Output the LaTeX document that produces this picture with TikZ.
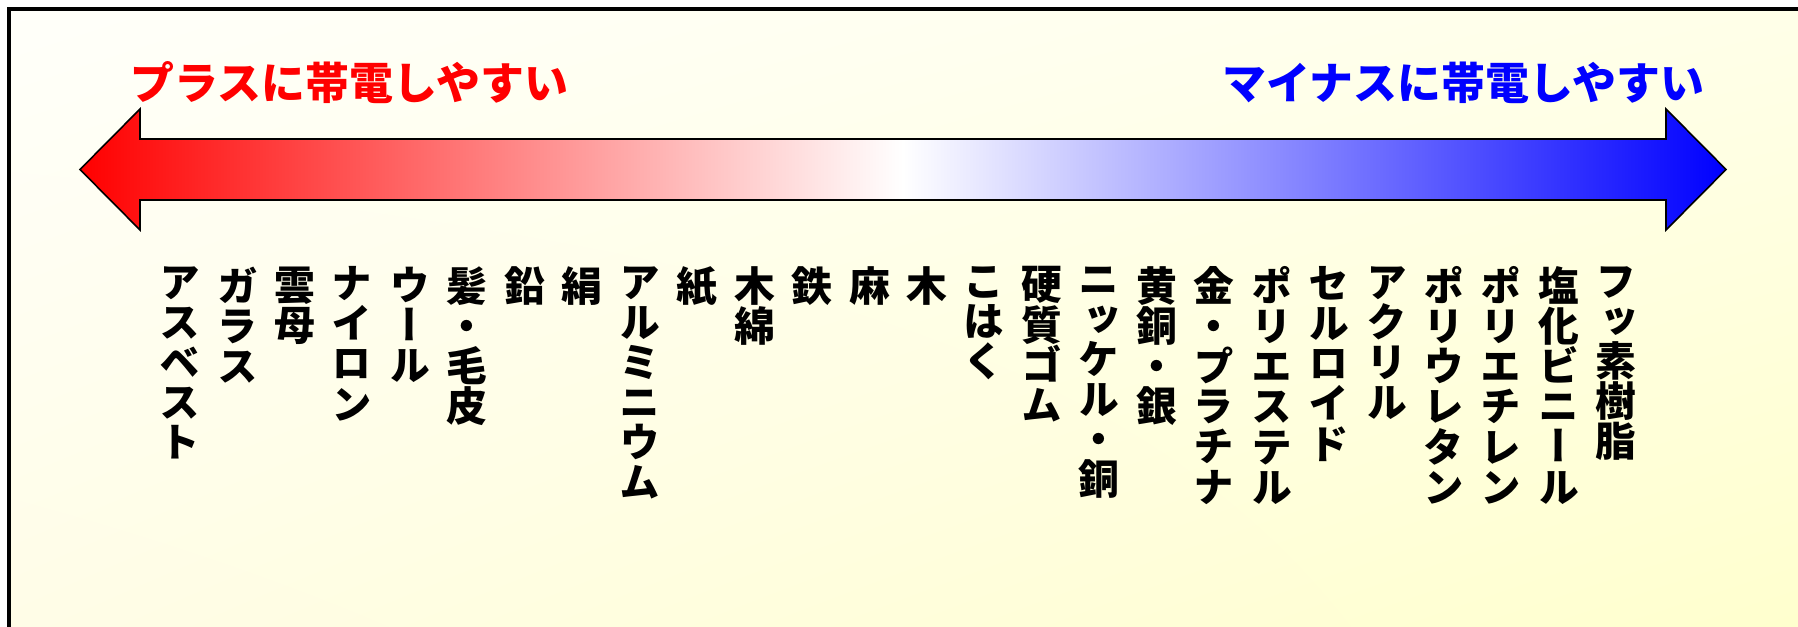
\documentclass[tikz,border=0pt]{standalone}
\usepackage{fontspec}
\usetikzlibrary{shadings}
\newfontfamily\jpv[RawFeature=+vert]{Noto Sans CJK JP}
\newfontfamily\jph{Noto Sans CJK JP}
\definecolor{bgTL}{HTML}{FFFFFA}
\definecolor{bgTR}{HTML}{FFFFE8}
\definecolor{bgBL}{HTML}{FFFDE6}
\definecolor{bgBR}{HTML}{FFFFCC}
\definecolor{plusred}{HTML}{FF0000}
\definecolor{minusblue}{HTML}{0000FF}
\tikzset{
  title/.style={font={\jph\bfseries\fontsize{12.5pt}{13pt}\selectfont}, inner sep=0pt},
  mat/.style={font={\jpv\bfseries\fontsize{11.6pt}{11.4pt}\selectfont}, align=center, anchor=north, inner sep=0pt},
  frameline/.style={line width=0.9pt, draw=black},
  bigarrow/.style={draw=black, line width=0.45pt, left color=plusred, right color=minusblue, middle color=white}
}
\begin{document}
\begin{tikzpicture}[x=0.1mm,y=-0.1mm]
\useasboundingbox (0,0) rectangle (1798,627);
\clip (0,0) rectangle (1798,627);
\fill[white] (0,0) rectangle (1798,627);
\shade[upper left=bgTL, upper right=bgTR, lower left=bgBL, lower right=bgBR] (9,9) rectangle (1830,660);
\draw[frameline] (9,660) -- (9,9) -- (1830,9);
% double arrow
\shade[bigarrow] (80,169.5) -- (140,109) -- (140,139) -- (1666,139) -- (1666,109) -- (1726,169.5) -- (1666,230) -- (1666,200) -- (140,200) -- (140,230) -- cycle;
% titles
\node[title, text=plusred, anchor=west] (plus) at (130,83) {プラスに帯電しやすい};
\node[title, text=minusblue, anchor=east] (minus) at (1705,83) {マイナスに帯電しやすい};
% materials
\def\cx#1{180+57.45*(#1-1)}
\node[mat] (m1) at ({\cx{1}},266) {ア\\ス\\ベ\\ス\\ト};
\node[mat] (m2) at ({\cx{2}},266) {ガ\\ラ\\ス};
\node[mat] (m3) at ({\cx{3}},266) {雲\\母};
\node[mat] (m4) at ({\cx{4}},266) {ナ\\イ\\ロ\\ン};
\node[mat] (m5) at ({\cx{5}},266) {ウ\\ー\\ル};
\node[mat] (m6) at ({\cx{6}},266) {髪\\・\\毛\\皮};
\node[mat] (m7) at ({\cx{7}},266) {鉛};
\node[mat] (m8) at ({\cx{8}},266) {絹};
\node[mat] (m9) at ({\cx{9}},266) {ア\\ル\\ミ\\ニ\\ウ\\ム};
\node[mat] (m10) at ({\cx{10}},266) {紙};
\node[mat] (m11) at ({\cx{11}},266) {木\\綿};
\node[mat] (m12) at ({\cx{12}},266) {鉄};
\node[mat] (m13) at ({\cx{13}},266) {麻};
\node[mat] (m14) at ({\cx{14}},266) {木};
\node[mat] (m15) at ({\cx{15}},266) {こ\\は\\く};
\node[mat] (m16) at ({\cx{16}},266) {硬\\質\\ゴ\\ム};
\node[mat] (m17) at ({\cx{17}},266) {ニ\\ッ\\ケ\\ル\\・\\銅};
\node[mat] (m18) at ({\cx{18}},266) {黄\\銅\\・\\銀};
\node[mat] (m19) at ({\cx{19}},266) {金\\・\\プ\\ラ\\チ\\ナ};
\node[mat] (m20) at ({\cx{20}},266) {ポ\\リ\\エ\\ス\\テ\\ル};
\node[mat] (m21) at ({\cx{21}},266) {セ\\ル\\ロ\\イ\\ド};
\node[mat] (m22) at ({\cx{22}},266) {ア\\ク\\リ\\ル};
\node[mat] (m23) at ({\cx{23}},266) {ポ\\リ\\ウ\\レ\\タ\\ン};
\node[mat] (m24) at ({\cx{24}},266) {ポ\\リ\\エ\\チ\\レ\\ン};
\node[mat] (m25) at ({\cx{25}},266) {塩\\化\\ビ\\ニ\\ー\\ル};
\node[mat] (m26) at ({\cx{26}},266) {フ\\ッ\\素\\樹\\脂};
\end{tikzpicture}
\end{document}
